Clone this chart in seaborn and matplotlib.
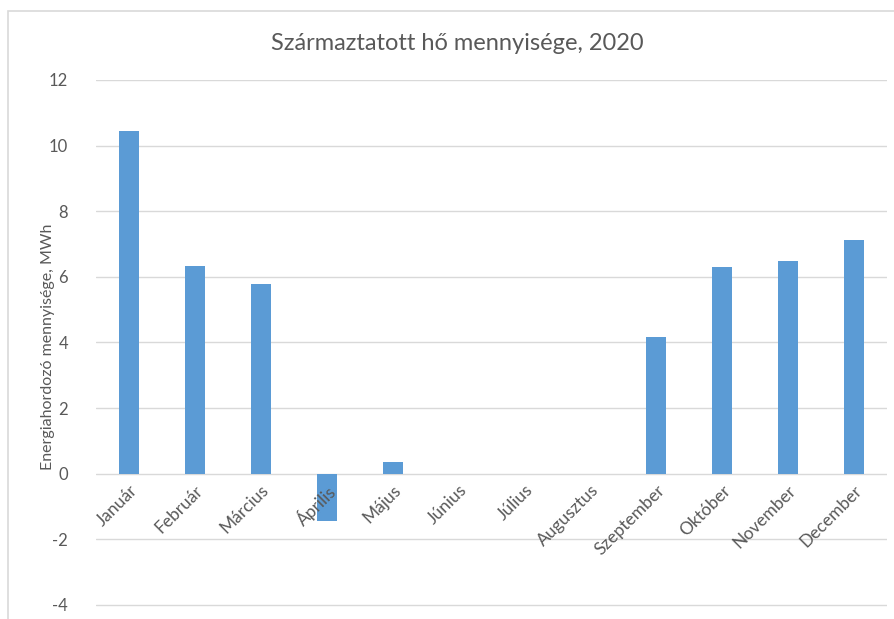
import matplotlib.pyplot as plt
import seaborn as sns
from matplotlib.patches import Rectangle

months = ["Január", "Február", "Március", "Április", "Május", "Június",
          "Július", "Augusztus", "Szeptember", "Október", "November", "December"]
heat_mwh = [10.45, 6.34, 5.79, -1.43, 0.37, 0.0, 0.0, 0.0, 4.17, 6.30, 6.47, 7.11]
y_ticks = [-4, -2, 0, 2, 4, 6, 8, 10, 12]

sns.set_theme(style="white")
plt.rcParams["font.family"] = ["Lato", "DejaVu Sans"]

fig = plt.figure(figsize=(8.94, 6.19), dpi=100)
# plot area: y=12 at px 80, y=-4 at px 605, extended a little below -4
ax = fig.add_axes([96 / 894, 1 - 609 / 619, (887 - 96) / 894, (609 - 80) / 619])

# outer chart border (cut off at the bottom in the reference)
fig.patches.append(Rectangle((8 / 894, -0.05), 1.2, 1 - 11 / 619 + 0.05,
                             transform=fig.transFigure, fill=False,
                             edgecolor="#d9d9d9", linewidth=1.2, zorder=0))

# gridlines drawn by hand so tick labels can sit above the bars
for t in y_ticks:
    ax.axhline(t, color="#d9d9d9", linewidth=1, zorder=0)

sns.barplot(x=months, y=heat_mwh, color="#5b9bd5", width=0.3,
            saturation=1, linewidth=0, ax=ax, zorder=1)

ax.set_ylim(-4 - 4 / 32.81, 12)
ax.set_xlim(-0.5, len(months) - 0.5)
ax.set_yticks(y_ticks)
ax.set_yticklabels([str(t) for t in y_ticks])
ax.grid(False)
ax.set_axisbelow(False)
for s in ax.spines.values():
    s.set_visible(False)

# category labels sit on the zero line
ax.spines["bottom"].set_position(("data", 0))
ax.tick_params(axis="x", length=0, pad=6, labelsize=12.5, labelcolor="#595959")
ax.tick_params(axis="y", length=0, pad=20, labelsize=12, labelcolor="#595959")
plt.setp(ax.get_xticklabels(), rotation=45, ha="right", rotation_mode="anchor")

ax.set_ylabel("")
fig.text(48 / 894, 1 - 347 / 619, "Energiahordozó mennyisége, MWh", rotation=90,
         ha="center", va="center", fontsize=11.5, color="#595959")
fig.text(457 / 894, 1 - 43 / 619, "Származtatott hő mennyisége, 2020",
         ha="center", va="center", fontsize=17, color="#595959")

fig.savefig("out.png", dpi=100)
